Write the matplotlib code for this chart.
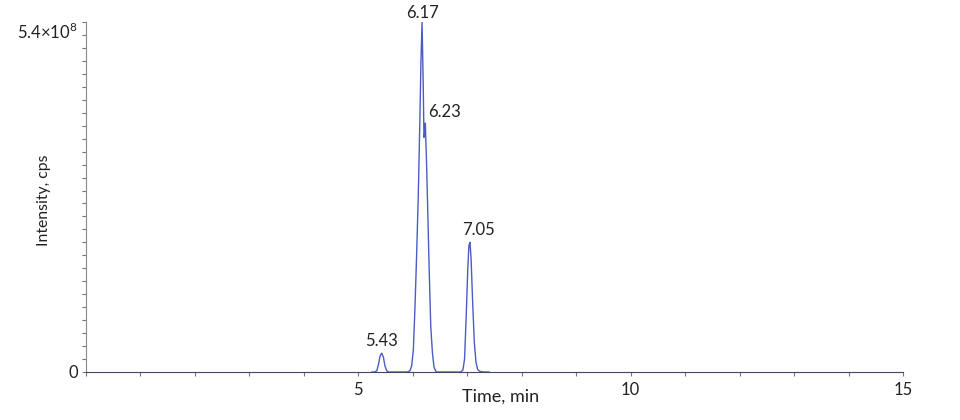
"""Extracted ion chromatogram, intensity vs retention time."""

import matplotlib

matplotlib.use("Agg")
import matplotlib.pyplot as plt
from matplotlib.ticker import MultipleLocator

plt.rcParams["font.family"] = ["Lato", "DejaVu Sans"]
plt.rcParams["mathtext.fontset"] = "custom"
plt.rcParams["mathtext.rm"] = "Lato"

# trace, intensity in units of 1e8 cps
time_min = [
    5.25, 5.30, 5.34, 5.37, 5.40, 5.43, 5.46, 5.49, 5.52, 5.56,
    5.90, 5.95, 5.98, 6.01, 6.04, 6.07, 6.10, 6.13, 6.15, 6.17,
    6.19, 6.205, 6.215, 6.23, 6.25, 6.27, 6.30, 6.33, 6.36, 6.39, 6.43,
    6.88, 6.92, 6.95, 6.98, 7.01, 7.03, 7.05, 7.07, 7.10, 7.13, 7.16,
    7.19, 7.23, 7.30, 7.40,
]
intensity_e8 = [
    0.0, 0.0, 0.02, 0.12, 0.25, 0.29, 0.23, 0.09, 0.02, 0.0,
    0.0, 0.02, 0.10, 0.34, 1.00, 1.80, 2.70, 3.90, 4.80, 5.40,
    4.50, 3.62, 3.66, 3.84, 3.30, 2.65, 1.60, 0.70, 0.30, 0.07, 0.0,
    0.0, 0.03, 0.20, 0.85, 1.60, 1.95, 2.00, 1.75, 1.05, 0.45, 0.15,
    0.04, 0.01, 0.0, 0.0,
]

peak_times = [5.43, 6.17, 6.23, 7.05]
peak_heights_e8 = [0.29, 5.40, 3.84, 2.00]
peak_labels = ["5.43", "6.17", "6.23", "7.05"]

y_max = 5.4e8
line_color = "#4b5cc4"
text_color = "#222222"


def main() -> None:
    fig = plt.figure(figsize=(9.6, 4.2), dpi=100)
    ax = fig.add_axes([86 / 960, 1 - 372 / 420, 817 / 960, 350 / 420])

    ax.plot(time_min, [v * 1e8 for v in intensity_e8], color=line_color, lw=1.0)

    offsets = {"5.43": (0, 3, "center"), "6.17": (0, 1, "center"),
               "6.23": (2, 2, "left"), "7.05": (6, 3, "center")}
    for t, h, label in zip(peak_times, peak_heights_e8, peak_labels):
        dx, dy, ha = offsets[label]
        ax.annotate(label, (t, h * 1e8), xytext=(dx, dy), textcoords="offset points",
                    ha=ha, va="bottom", fontsize=12, color=text_color)

    ax.set_xlim(0, 15)
    ax.set_ylim(0, y_max)
    ax.set_xticks([5, 10, 15])
    ax.xaxis.set_minor_locator(MultipleLocator(1))
    ax.set_yticks([0, y_max], labels=["0", r"5.4×10$^8$"])
    ax.yaxis.set_minor_locator(MultipleLocator(2e7))
    ax.get_yticklabels()[1].set_verticalalignment("top")

    for side in ("top", "right"):
        ax.spines[side].set_visible(False)
    ax.spines["bottom"].set_color("#45456a")
    ax.spines["left"].set_color("#8a8a8a")
    ax.tick_params(axis="x", which="both", direction="out", length=3, width=0.8,
                   color="#777777", labelsize=12, pad=4, labelcolor=text_color)
    ax.tick_params(axis="y", which="both", direction="out", length=3, width=0.8,
                   color="#777777", labelsize=12, pad=3, labelcolor=text_color)

    ax.set_xlabel("Time, min", fontsize=13, color=text_color, va="top")
    ax.xaxis.set_label_coords(0.508, -0.048)
    ax.set_ylabel("Intensity, cps", fontsize=11.3, color=text_color)
    ax.yaxis.set_label_coords(-0.043, 0.49)

    fig.savefig("out.png", dpi=100)
    plt.close(fig)


if __name__ == "__main__":
    main()
